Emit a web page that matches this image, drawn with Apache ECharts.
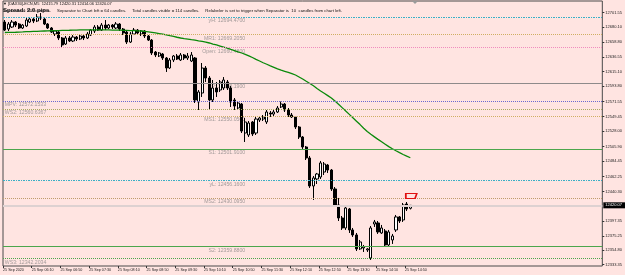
<!DOCTYPE html>
<html><head><meta charset="utf-8">
<script src="https://cdn.jsdelivr.net/npm/echarts@6/dist/echarts.min.js"></script>
<style>html,body{margin:0;padding:0;background:#FFE4E1}#c{width:625px;height:275px}</style>
</head><body><div id="c"></div>
<script>
const tickLabels = ['25 Sep 2020','25 Sep 06:10','25 Sep 06:50','25 Sep 07:30','25 Sep 08:10','25 Sep 08:50','25 Sep 09:30','25 Sep 10:10','25 Sep 10:50','25 Sep 11:30','25 Sep 12:10','25 Sep 12:50','25 Sep 13:30','25 Sep 14:10','25 Sep 14:50'];
const priceTicks = [12701.55,12680.10,12658.80,12636.55,12615.10,12593.80,12571.55,12549.45,12528.00,12505.90,12484.45,12462.25,12440.30,12397.35,12375.25,12354.80,12333.35];
const opens = [12687.6,12677.4,12680.3,12687.6,12684.7,12678.9,12681.8,12687.6,12692.0,12689.1,
12694.9,12692.0,12684.7,12678.9,12670.1,12673.0,12664.3,12655.5,12664.3,12659.9,
12665.7,12662.8,12667.2,12664.3,12668.6,12674.5,12680.3,12675.9,12683.2,12678.9,
12683.2,12678.9,12684.7,12677.4,12673.0,12658.4,12670.1,12675.9,12670.1,12674.5,
12667.2,12661.3,12643.8,12638.0,12640.9,12635.1,12620.5,12632.2,12638.0,12632.2,
12639.5,12635.1,12630.7,12635.1,12570.9,12584.0,12620.5,12605.9,12573.8,12591.3,
12588.4,12591.3,12600.1,12591.3,12573.8,12562.1,12567.9,12525.6,12522.7,12541.7,
12525.6,12544.6,12546.0,12541.7,12554.8,12553.3,12556.3,12563.6,12567.9,12559.2,
12551.9,12549.0,12534.4,12519.8,12505.2,12489.2,12448.3,12458.5,12461.4,12468.7,
12478.9,12471.6,12443.9,12420.6,12401.6,12387.0,12414.7,12384.1,12376.8,12356.4,
12357.8,12354.9,12343.2,12392.8,12394.3,12379.7,12382.6,12362.2,12369.5,12384.1,
12403.1,12398.7,12422.0,12415.79];
const closes = [12675.9,12684.7,12687.6,12683.2,12678.9,12683.2,12690.5,12692.0,12689.1,12694.9,
12693.4,12684.7,12678.9,12673.0,12674.5,12664.3,12654.1,12664.3,12659.9,12665.7,
12662.8,12667.2,12664.3,12670.1,12675.9,12680.3,12675.9,12683.2,12678.9,12683.2,
12680.3,12684.7,12677.4,12671.6,12658.4,12670.1,12675.9,12671.6,12674.5,12667.2,
12661.3,12642.4,12639.5,12642.4,12635.1,12620.5,12632.2,12638.0,12633.6,12639.5,
12635.1,12638.0,12639.5,12573.8,12585.5,12620.5,12605.9,12573.8,12591.3,12585.5,
12600.1,12603.0,12591.3,12570.9,12565.0,12569.4,12528.5,12541.7,12540.2,12524.2,
12546.0,12547.5,12549.0,12556.3,12553.3,12556.3,12562.1,12567.9,12559.2,12551.9,
12549.0,12534.4,12519.8,12505.2,12489.2,12448.3,12460.0,12465.8,12481.9,12480.4,
12471.6,12443.9,12420.6,12401.6,12387.0,12416.2,12384.1,12376.8,12356.4,12366.6,
12359.3,12356.4,12387.0,12395.8,12381.2,12387.0,12362.2,12381.2,12375.3,12403.1,
12397.2,12420.6,12414.7,12420.07];
const lows = [12674.5,12674.5,12678.9,12680.3,12677.4,12677.4,12680.3,12686.1,12686.1,12687.6,
12690.5,12683.2,12677.4,12671.6,12667.2,12661.3,12651.1,12654.1,12658.4,12658.4,
12659.9,12661.3,12661.3,12662.8,12667.2,12671.6,12674.5,12674.5,12675.9,12677.4,
12677.4,12677.4,12674.5,12668.6,12655.5,12657.0,12668.6,12670.1,12667.2,12664.3,
12659.9,12639.5,12636.5,12636.5,12632.2,12614.7,12619.0,12629.2,12632.2,12630.7,
12632.2,12632.2,12629.2,12569.4,12559.2,12578.2,12600.1,12559.2,12570.9,12578.2,
12585.5,12588.4,12588.4,12563.6,12559.2,12559.2,12525.6,12512.5,12519.8,12521.2,
12522.7,12541.7,12543.1,12538.8,12549.0,12550.4,12554.8,12562.1,12556.3,12549.0,
12547.5,12531.5,12516.9,12502.3,12486.2,12445.4,12427.9,12451.2,12458.5,12464.3,
12467.3,12441.0,12417.6,12397.2,12384.1,12384.1,12379.7,12373.9,12353.4,12354.9,
12352.0,12352.0,12340.3,12388.5,12378.3,12378.3,12360.7,12360.7,12363.7,12381.2,
12394.3,12395.8,12411.8,12414.06];
const highs = [12690.5,12687.6,12690.5,12689.1,12686.1,12684.7,12694.9,12694.9,12693.4,12699.3,
12700.7,12693.4,12686.1,12680.3,12675.9,12674.5,12665.7,12667.2,12667.2,12668.6,
12667.2,12670.1,12668.6,12673.0,12677.4,12683.2,12683.2,12686.1,12690.5,12684.7,
12684.7,12687.6,12686.1,12678.9,12674.5,12673.0,12678.9,12677.4,12675.9,12675.9,
12668.6,12662.8,12645.3,12643.8,12642.4,12636.5,12635.1,12639.5,12640.9,12642.4,
12640.9,12642.4,12643.8,12636.5,12588.4,12627.8,12623.4,12608.8,12603.0,12600.1,
12603.0,12607.3,12603.0,12594.2,12576.7,12570.9,12569.4,12547.5,12543.1,12543.1,
12549.0,12550.4,12551.9,12559.2,12557.7,12559.2,12565.0,12571.6,12569.4,12562.1,
12554.8,12550.4,12535.8,12521.2,12506.7,12492.1,12462.9,12467.3,12484.8,12483.3,
12480.4,12473.1,12446.8,12430.8,12404.5,12417.6,12416.2,12387.0,12379.7,12369.5,
12362.2,12357.8,12389.9,12398.7,12397.2,12391.4,12385.5,12384.1,12378.3,12406.0,
12404.5,12423.5,12424.9,12420.31];
const maValues = [12672.3,12672.4,12672.6,12672.7,12673.0,12673.2,12673.5,12673.6,12673.9,12674.0,
12674.3,12674.5,12674.6,12674.9,12675.1,12675.2,12675.4,12675.5,12675.6,12675.8,
12675.9,12676.1,12676.1,12676.2,12676.2,12676.2,12676.2,12676.2,12676.1,12676.1,
12675.9,12675.9,12675.8,12675.6,12675.5,12675.2,12675.1,12674.8,12674.5,12674.0,
12673.3,12672.6,12671.7,12670.8,12669.8,12668.8,12667.6,12666.6,12665.4,12664.3,
12663.4,12662.7,12661.8,12661.1,12660.2,12659.5,12658.3,12657.0,12655.5,12654.1,
12652.6,12651.1,12649.4,12647.6,12645.9,12644.1,12642.4,12640.5,12638.3,12635.8,
12633.2,12630.7,12628.2,12626.0,12623.7,12621.5,12619.3,12617.3,12615.7,12614.1,
12612.3,12610.3,12607.4,12604.4,12601.1,12597.9,12594.5,12590.6,12586.9,12583.6,
12580.2,12576.7,12572.3,12567.7,12562.7,12557.7,12552.8,12547.8,12542.9,12537.9,
12532.6,12527.7,12523.7,12520.0,12516.3,12512.8,12509.3,12505.8,12502.6,12499.7,
12496.9,12494.3,12491.8,12489.5];
const levelNames = ['yH','MR1','Open','PP','MPV','WS2','MS1','S1','yL','MS2','S2','WS3'];
const levelValues = [12694.47,12669.205,12650.1,12598.19,12572.1533,12560.6367,12550.05,12501.91,12456.16,12430.095,12359.88,12342.2];
const levelTexts = ['yH: 12694.4700','MR1: 12669.2050','Open: 12660.4800','PP: 12598.1900','MPV: 12572.1533','WS2: 12560.6367','MS1: 12550.0500','S1: 12501.9100','yL: 12456.1600','MS2: 12430.0950','S2: 12359.8800','WS3: 12342.2034'];
const lastPrice = 12420.07;
const markerPrice = 12433.7;

// ---- styling (not data) ----
const SLOTS = 167;
const levelStyle = {
  yH:{color:'#3AAFC6',type:[2,1,1,1],width:1}, MR1:{color:'#D0AE62',type:[1,1],width:1},
  Open:{color:'#F08CBE',type:[1,1],width:1}, PP:{color:'#8E8A8A',type:'solid',width:1},
  MPV:{color:'#6A6AD0',type:[1,1],width:1}, WS2:{color:'#A8AA60',type:[1,1],width:1},
  MS1:{color:'#D0AE62',type:[1,1],width:1}, S1:{color:'#4CA64C',type:'solid',width:1.2},
  yL:{color:'#3AAFC6',type:[2,1,1,1],width:1}, MS2:{color:'#C09C6C',type:[1,1],width:1},
  S2:{color:'#4CA64C',type:'solid',width:1.2}, WS3:{color:'#4CA64C',type:[1,1],width:1}
};
const leftSide = {MPV:true, WS2:true, WS3:true};
const FONT = 'Liberation Sans';

const mainCats = []; for (let i=0;i<SLOTS;i++) mainCats.push(String(i));
const labelCats = []; for (let i=0;i<=SLOTS;i++) labelCats.push(String(i));
const candleData = opens.map((o,i)=>[o, closes[i], lows[i], highs[i]]);

const markLines = levelNames.map((n,i)=>({yAxis: levelValues[i], lineStyle: levelStyle[n], label:{show:false}}));
markLines.push({yAxis:lastPrice, lineStyle:{color:'#DDD1D1',width:2,type:'solid'},
  label:{show:true, position:'end', formatter:lastPrice.toFixed(2), backgroundColor:'#000', color:'#fff',
    fontSize:4, fontFamily:FONT, padding:[1,3,1,2], distance:1}});

const textData = levelNames.map((n,i)=>({
  value:[leftSide[n]?0:67, levelValues[i]],
  label:{show:true, formatter:levelTexts[i], position: leftSide[n]?'right':'left', distance:0,
    offset:[0,3.6], color:'#8C8888', fontSize:5.2, fontFamily:FONT}
}));

const chart = echarts.init(document.getElementById('c'), null, {renderer:'canvas'});
chart.setOption({
  animation:false,
  backgroundColor:'#FFE4E1',
  grid:{left:1, right:22, top:1, bottom:9, show:true, borderColor:'#4a4a4a', borderWidth:1, backgroundColor:'transparent'},
  xAxis:[
    {type:'category', data:mainCats, boundaryGap:true, show:false},
    {type:'category', data:labelCats, boundaryGap:false, position:'bottom',
      axisLine:{show:false},
      axisTick:{show:true, length:2, interval:(i)=>i%8===0 && i/8<tickLabels.length, lineStyle:{color:'#333'}},
      axisLabel:{interval:(i)=>i%8===0 && i/8<tickLabels.length, formatter:(v,i)=>tickLabels[i/8]||'',
        align:'left', fontSize:3.7, color:'#222', margin:2, fontFamily:FONT, hideOverlap:false},
      splitLine:{show:false}}
  ],
  yAxis:{type:'value', position:'right', min:12331.5, max:12718.3, scale:true,
    splitLine:{show:false}, axisLine:{show:false},
    axisTick:{show:true, customValues:priceTicks, length:2, lineStyle:{color:'#333'}},
    axisLabel:{customValues:priceTicks, formatter:(v)=>v.toFixed(2), fontSize:4, color:'#222', margin:3, fontFamily:FONT}},
  graphic:[
    {type:'text', left:3, top:2, z:10, style:{text:'▼ [DAX30]-ECN,M5  12415.79 12420.31 12414.06 12420.07', font:'4px "'+FONT+'"', fill:'#111'}},
    {type:'text', left:3, top:8.5, z:10, style:{text:'Separator = 168 candles.     Separator to Chart left = 64 candles.     Total candles visible = 114 candles.     Relabeler is set to trigger when Separator is  10  candles from chart left.', font:'4.3px "'+FONT+'"', fill:'#111'}},
    {type:'text', left:3, top:7, z:11, style:{text:'Spread: 2.0 pips', font:'bold 6px "'+FONT+'"', fill:'#222'}},
    {type:'polygon', z:10, shape:{points:[[412,1],[418,1],[415,4]]}, style:{fill:'#9a9a9a'}}
  ],
  series:[
    {type:'line', data:[], z:1, silent:true,
      markLine:{symbol:'none', silent:true, animation:false, data:markLines}},
    {type:'scatter', data:textData, symbolSize:0, z:2, silent:true, xAxisIndex:0},
    {type:'candlestick', data:candleData, xAxisIndex:0, barWidth:2.6, z:3,
      itemStyle:{color:'#ffffff', color0:'#000000', borderColor:'#000000', borderColor0:'#000000', borderWidth:1},
      markPoint:{silent:true, animation:false, data:[{coord:[113, markerPrice], symbol:'path://M0,0 L12,0 L10,6 L0,6 Z',
        symbolSize:[11,5], symbolOffset:[1,0], itemStyle:{color:'rgba(0,0,0,0)', borderColor:'#E01010', borderWidth:1.2}, label:{show:false}}]}},
    {type:'line', data:maValues, xAxisIndex:0, showSymbol:false, z:4, silent:true,
      lineStyle:{color:'#0A8A0A', width:1.3}}
  ]
});
</script></body></html>
